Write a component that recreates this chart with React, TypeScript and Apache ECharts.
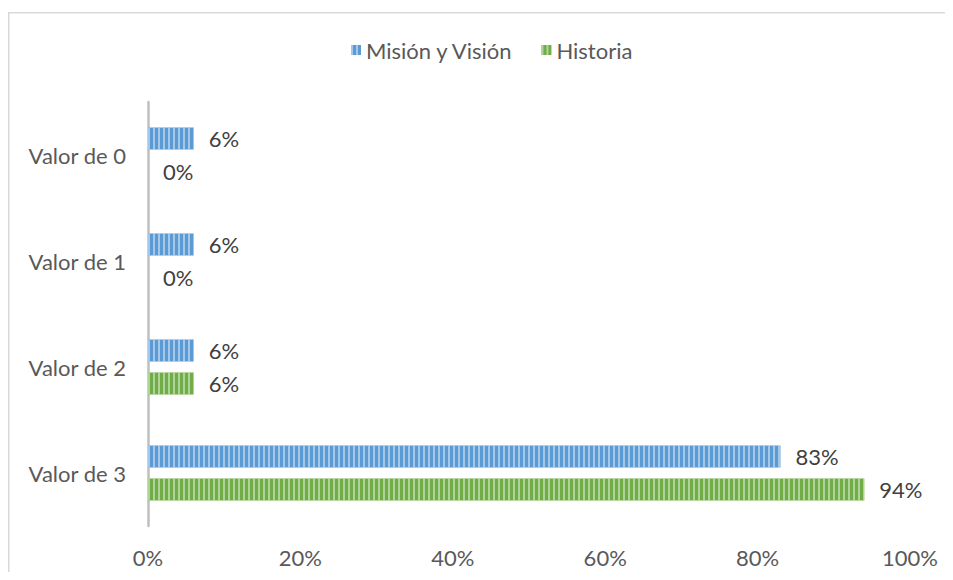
import React, { useEffect, useRef } from "react";
import * as echarts from "echarts";

const categories = ["Valor de 0", "Valor de 1", "Valor de 2", "Valor de 3"];
const misionVision = [0.06, 0.06, 0.06, 0.83];
const historia = [0, 0, 0.06, 0.94];
const seriesNames = ["Misión y Visión", "Historia"];
const xTicks = [0, 0.2, 0.4, 0.6, 0.8, 1];

const FONT = "Lato";
const FS = 22;

export default function App() {
  const ref = useRef<HTMLDivElement>(null);
  useEffect(() => {
    if (!ref.current) return;
    const chart = echarts.init(ref.current, null, { renderer: "svg" });
    const decal = (color: string) => ({
      symbol: "rect",
      symbolSize: 1,
      dashArrayX: [1.6, 2.2],
      dashArrayY: [4, 0],
      rotation: 0,
      color,
    });
    const label = {
      show: true,
      position: "right",
      distance: 15,
      color: "#404040",
      fontFamily: FONT,
      fontSize: FS,
      formatter: (p: any) => Math.round(p.value * 100) + "%",
    };
    chart.setOption({
      animation: false,
      textStyle: { fontFamily: FONT },
      graphic: [
        {
          type: "rect",
          shape: { x: 0.75, y: 4.75, width: 1200, height: 1200 },
          style: { fill: "none", stroke: "#d9d9d9", lineWidth: 1.5 },
          silent: true,
        },
      ],
      legend: {
        top: 31,
        left: 343,
        padding: 0,
        itemWidth: 10,
        itemHeight: 10,
        itemGap: 28,
        itemTextGap: 5,
        icon: "rect",
        textStyle: { color: "#595959", fontSize: FS, lineHeight: 22, fontFamily: FONT },
        data: seriesNames,
      },
      grid: { left: 140, right: 43, top: 94, bottom: 46, containLabel: false },
      xAxis: {
        type: "value",
        min: 0,
        max: 1,
        interval: 0.2,
        axisLine: { show: false },
        axisTick: { show: false },
        splitLine: { show: false },
        axisLabel: {
          margin: 20,
          color: "#595959",
          fontSize: FS,
          fontFamily: FONT,
          formatter: (v: number) => {
            const t = xTicks.find((x) => Math.abs(x - v) < 1e-9);
            return t === undefined ? "" : Math.round(t * 100) + "%";
          },
        },
      },
      yAxis: {
        type: "category",
        data: categories,
        inverse: true,
        axisLine: { show: true, lineStyle: { color: "#bfbfbf", width: 2.5 } },
        axisTick: { show: false },
        axisLabel: { margin: 22, color: "#595959", fontSize: FS, fontFamily: FONT },
      },
      series: [
        {
          name: seriesNames[0],
          type: "bar",
          data: misionVision,
          barWidth: 22,
          barGap: "50%",
          itemStyle: { color: "#5b9bd5", decal: decal("rgba(189,215,238,0.75)") },
          label,
        },
        {
          name: seriesNames[1],
          type: "bar",
          data: historia,
          barWidth: 22,
          barGap: "50%",
          itemStyle: { color: "#70ad47", decal: decal("rgba(197,224,180,0.75)") },
          label,
        },
      ],
    });
    return () => chart.dispose();
  }, []);
  return <div ref={ref} style={{ width: 945, height: 564 }} />;
}
